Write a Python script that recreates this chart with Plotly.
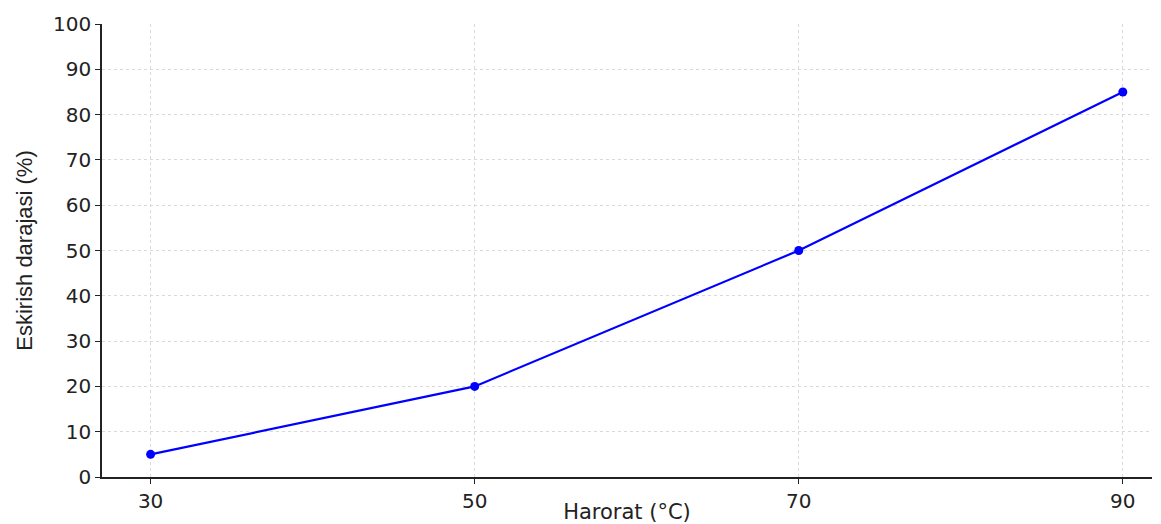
import plotly.graph_objects as go

temperature = [30, 50, 70, 90]
wear = [5, 20, 50, 85]
x_ticks = [30, 50, 70, 90]
y_ticks = [0, 10, 20, 30, 40, 50, 60, 70, 80, 90, 100]

fig = go.Figure()
fig.add_trace(go.Scatter(
    x=temperature, y=wear, mode="lines+markers",
    line=dict(color="#0000ff", width=2.2),
    marker=dict(color="#0000ff", size=9),
    showlegend=False,
))

grid = dict(showgrid=True, gridcolor="#d9d9d9", griddash="dot", gridwidth=1)
fig.update_layout(
    width=1161, height=524,
    margin=dict(l=102, r=9, t=24, b=47),
    paper_bgcolor="white", plot_bgcolor="white",
    font=dict(family="DejaVu Sans", color="#222222", size=20),
    xaxis=dict(range=[27, 91.8], tickvals=x_ticks, ticks="outside", ticklen=5,
               tickcolor="#222", showline=True, linecolor="#222", linewidth=1.5,
               zeroline=False, automargin=False,
               title=dict(text="Harorat (°C)", standoff=2,
                          font=dict(size=21, family="DejaVu Sans")),
               **grid),
    yaxis=dict(range=[0, 100], tickvals=y_ticks, ticks="outside", ticklen=5,
               tickcolor="#222", showline=True, linecolor="#222", linewidth=1.5,
               zeroline=False, automargin=False,
               title=dict(text="Eskirish darajasi (%)", standoff=14,
                          font=dict(size=22, family="Liberation Sans Narrow, Liberation Sans")),
               **grid),
)
fig.write_html("out.html", config={"displayModeBar": False},
               post_script="document.body.style.margin='0';document.body.style.overflow='hidden';")
